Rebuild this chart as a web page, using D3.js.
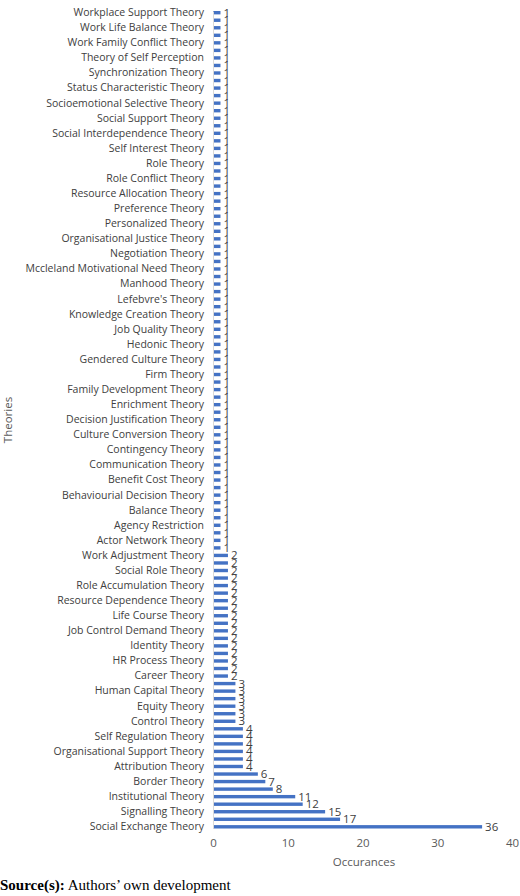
<!DOCTYPE html>
<html><head><meta charset="utf-8">
<script src="https://cdn.jsdelivr.net/npm/d3@7"></script>
<style>body{margin:0;background:#fff}</style></head>
<body><svg id="chart"></svg>
<script>
// labels shown on the axis, top to bottom (every other bar)
const shownLabels = [
  "Workplace Support Theory","Work Life Balance Theory","Work Family Conflict Theory","Theory of Self Perception",
  "Synchronization Theory","Status Characteristic Theory","Socioemotional Selective Theory","Social Support Theory",
  "Social Interdependence Theory","Self Interest Theory","Role Theory","Role Conflict Theory","Resource Allocation Theory",
  "Preference Theory","Personalized Theory","Organisational Justice Theory","Negotiation Theory",
  "Mccleland Motivational Need Theory","Manhood Theory","Lefebvre's Theory","Knowledge Creation Theory",
  "Job Quality Theory","Hedonic Theory","Gendered Culture Theory","Firm Theory","Family Development Theory",
  "Enrichment Theory","Decision Justification Theory","Culture Conversion Theory","Contingency Theory",
  "Communication Theory","Benefit Cost Theory","Behaviourial Decision Theory","Balance Theory","Agency Restriction",
  "Actor Network Theory","Work Adjustment Theory","Social Role Theory","Role Accumulation Theory",
  "Resource Dependence Theory","Life Course Theory","Job Control Demand Theory","Identity Theory","HR Process Theory",
  "Career Theory","Human Capital Theory","Equity Theory","Control Theory","Self Regulation Theory",
  "Organisational Support Theory","Attribution Theory","Border Theory","Institutional Theory","Signalling Theory",
  "Social Exchange Theory"
];
// occurrences, bottom to top
const highValues = [36, 17, 15, 12, 11, 8, 7, 6];
const fours = [4, 4, 4, 4, 4, 4];
const threes = [3, 3, 3, 3, 3, 3];
const twos = [2, 2, 2, 2, 2, 2, 2, 2, 2, 2, 2, 2, 2, 2, 2, 2, 2];
const ones = Array(72).fill(1);
const values = [...highValues, ...fours, ...threes, ...twos, ...ones];
const xTicks = [0, 10, 20, 30, 40];

const W = 520, H = 896;
const font = "'Open Sans', 'Liberation Sans', sans-serif";
const svg = d3.select("#chart").attr("width", W).attr("height", H)
  .style("font-family", font);

const x = d3.scaleLinear().domain([0, 40]).range([213, 512]);
const idx = d3.range(values.length);
const y = d3.scaleBand().domain(idx).range([828.5, 828.5 - 7.5 * values.length]).paddingInner(0.55);

const labelFor = (i) => i % 2 === 0 ? shownLabels[shownLabels.length - 1 - i / 2] : "";

svg.append("g").selectAll("rect").data(values).join("rect")
  .attr("x", x(0)).attr("y", (d, i) => y(i))
  .attr("width", (d) => x(d) - x(0)).attr("height", y.bandwidth())
  .attr("fill", "#4472C4");

svg.append("g").selectAll("text").data(values).join("text")
  .attr("x", (d) => x(d) + 3).attr("y", (d, i) => y(i) + y.bandwidth() / 2)
  .attr("dy", "0.35em").attr("font-size", 11.5).attr("fill", "#404040")
  .text((d) => d);

const yAxis = svg.append("g").attr("transform", `translate(${x(0)},0)`)
  .call(d3.axisLeft(y).tickSize(0).tickPadding(9).tickFormat(labelFor));
yAxis.select(".domain").attr("stroke", "#d9d9d9");
yAxis.selectAll("text").attr("font-size", 10.5).attr("fill", "#404040")
  .style("font-family", font);

const xAxis = svg.append("g").attr("transform", "translate(0,832)")
  .call(d3.axisBottom(x).tickValues(xTicks).tickSize(0).tickPadding(7));
xAxis.select(".domain").remove();
xAxis.selectAll("text").attr("font-size", 11.5).attr("fill", "#595959")
  .style("font-family", font);

svg.append("text").attr("x", 364).attr("y", 866).attr("text-anchor", "middle")
  .attr("font-size", 11.5).attr("fill", "#595959").text("Occurances");
svg.append("text").attr("transform", "translate(12,420) rotate(-90)").attr("text-anchor", "middle")
  .attr("font-size", 11.5).attr("fill", "#595959").text("Theories");

const src = svg.append("text").attr("x", 0).attr("y", 890)
  .attr("font-family", "'Liberation Serif', 'Times New Roman', serif").attr("font-size", 15).attr("fill", "#000");
src.append("tspan").attr("font-weight", "bold").text("Source(s):");
src.append("tspan").text(" Authors’ own development");
</script></body></html>
